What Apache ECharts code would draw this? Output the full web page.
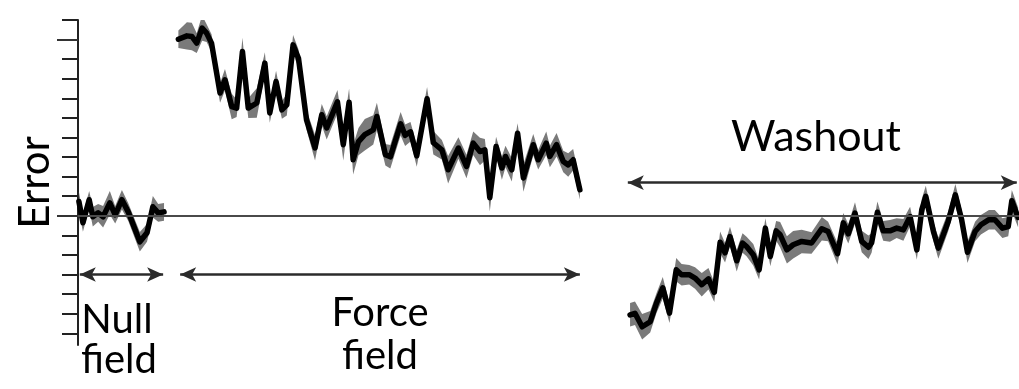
<!DOCTYPE html>
<html>
<head>
<meta charset="utf-8">
<script src="https://cdn.jsdelivr.net/npm/echarts@6/dist/echarts.min.js"></script>
<style>
  html, body { margin: 0; padding: 0; background: #fff; }
  #chart { width: 1019px; height: 389px; }
</style>
</head>
<body>
<div id="chart"></div>
<script>
// Trial positions, mean error and its standard error for each phase
const nullTrials = [0.2, 1.1, 2.5, 3.3, 4.5, 5.6, 7.1, 8.3, 9.8, 11.2, 13.8, 15.4, 16.7, 17.9, 19.2];
const nullMean   = [0.73, -0.36, 0.82, -0.05, 0.15, -0.05, 0.66, 0.05, 0.82, 0.2, -1.33, -0.87, 0.46, 0.15, 0.2];
const nullSem    = [0.5, 0.45, 0.45, 0.5, 0.45, 0.55, 0.6, 0.45, 0.5, 0.45, 0.5, 0.45, 0.55, 0.45, 0.45];

const forceTrials = [22.4, 24.3, 25.4, 26.5, 27.7, 28.7, 29.8, 31.7, 32.8, 34.3, 35.4, 36.7, 38.0, 39.9, 41.7, 42.8,
  44.2, 45.5, 46.6, 48.0, 49.2, 51.0, 52.9, 54.4, 55.5, 57.9, 59.2, 60.5, 61.4, 62.6, 64.0, 65.9,
  66.7, 68.6, 69.7, 72.0, 73.0, 74.2, 75.6, 77.9, 79.3, 81.2, 82.6, 84.9, 86.7, 88.2, 89.7, 90.8,
  91.9, 93.3, 94.6, 95.4, 96.8, 98.1, 99.4, 101.6, 102.7, 104.5, 105.3, 106.8, 108.3, 109.4, 110.5, 112.0];
const forceMean = [9.02, 9.19, 9.16, 8.82, 9.59, 9.33, 8.82, 6.27, 6.95, 5.58, 5.50, 8.39, 5.50, 5.76, 7.80, 5.25,
  6.86, 5.41, 5.67, 8.73, 8.05, 4.90, 3.47, 5.16, 4.49, 5.82, 3.63, 5.80, 2.86, 3.79, 4.14, 4.39,
  5.07, 3.12, 3.01, 4.70, 4.11, 4.29, 3.06, 5.98, 3.73, 3.37, 2.35, 3.46, 2.52, 3.71, 3.28, 3.37,
  0.92, 3.54, 2.44, 3.03, 2.35, 4.22, 1.93, 3.63, 2.86, 3.71, 3.03, 3.63, 2.77, 2.60, 2.86, 1.33];
const forceSem = [0.45, 0.7, 0.7, 0.5, 0.65, 0.45, 0.45, 0.5, 0.55, 0.65, 0.45, 0.7, 0.5, 0.75, 0.55, 0.5,
  0.55, 0.45, 0.55, 0.5, 0.45, 0.5, 0.65, 0.55, 0.6, 0.6, 0.8, 0.7, 0.75, 0.7, 0.8, 0.75,
  0.7, 0.55, 0.6, 0.6, 0.55, 0.5, 0.55, 0.6, 0.6, 0.5, 0.7, 0.55, 0.6, 0.6, 0.7, 0.55,
  0.7, 0.5, 0.6, 0.55, 0.6, 0.5, 0.7, 0.55, 0.5, 0.6, 0.55, 0.6, 0.55, 0.6, 0.55, 0.5];

const washTrials = [123.2, 124.3, 125.9, 127.7, 129.1, 130.5, 132.0, 133.5, 134.7, 136.4, 137.7, 139.2, 140.7, 142.0,
  143.3, 144.4, 145.5, 147.0, 148.3, 149.2, 150.7, 152.0, 153.4, 154.5, 155.8, 156.7, 158.2, 159.6,
  161.5, 163.7, 166.0, 167.4, 169.5, 170.8, 171.9, 173.4, 174.9, 176.4, 177.1, 178.4, 179.7, 181.2,
  182.7, 184.2, 185.7, 187.2, 188.3, 189.2, 190.9, 192.0, 194.2, 195.8, 197.2, 198.5, 200.2, 201.5,
  203.3, 204.6, 206.3, 207.6, 208.4, 209.8];
const washMean = [-5.06, -4.98, -5.67, -5.41, -4.46, -3.68, -4.97, -2.76, -3.01, -3.01, -3.18, -3.52, -3.22, -3.91,
  -1.35, -1.89, -1.06, -2.30, -1.39, -1.57, -1.99, -2.76, -0.63, -2.08, -0.77, -0.97, -1.74, -1.48,
  -1.31, -1.39, -0.66, -0.80, -1.94, -0.36, -0.92, 0.14, -1.31, -1.61, -1.39, 0.18, -0.77, -0.77,
  -0.63, -0.72, -0.04, -1.74, 0.31, 0.99, -0.80, -1.65, -0.29, 1.07, -0.20, -1.86, -0.80, -0.46,
  -0.20, -0.20, -0.63, -0.55, 0.77, -0.08];
const washSem = [0.6, 0.6, 0.65, 0.55, 0.5, 0.55, 0.5, 0.6, 0.55, 0.5, 0.55, 0.6, 0.55, 0.5,
  0.55, 0.5, 0.5, 0.55, 0.5, 0.5, 0.55, 0.5, 0.5, 0.5, 0.5, 0.65, 0.7, 0.7,
  0.6, 0.55, 0.6, 0.5, 0.55, 0.5, 0.5, 0.55, 0.55, 0.6, 0.5, 0.55, 0.5, 0.55,
  0.5, 0.55, 0.5, 0.5, 0.55, 0.55, 0.5, 0.55, 0.5, 0.55, 0.5, 0.55, 0.5, 0.5,
  0.5, 0.5, 0.5, 0.5, 0.55, 0.5];

// Axis ticks and phase spans
const yTicks = [-6, -5, -4, -3, -2, -1, 0, 1, 2, 3, 4, 5, 6, 7, 8, 9, 10];
const yLongTicks = [0, 9];
const nullSpan = [0.4, 19.0];
const forceSpan = [22.8, 112.0];
const washSpan = [122.7, 209.5];
const lowerArrowLevel = -3;
const upperArrowLevel = 1.69;

const BAND = '#7a7a7a';
const INK = '#000';

// Shaded mean ± SEM band drawn as one polygon through the axis scales
function bandSeries(xs, mean, sem) {
  return {
    type: 'custom', silent: true, z: 1, clip: true,
    data: xs.map((x, i) => [x, mean[i] - sem[i], mean[i] + sem[i]]),
    renderItem: function (params, api) {
      if (params.dataIndexInside !== 0) return null;
      const n = params.dataInsideLength;
      const upper = [], lower = [];
      for (let i = 0; i < n; i++) {
        const x = api.value(0, i);
        upper.push(api.coord([x, api.value(2, i)]));
        lower.push(api.coord([x, api.value(1, i)]));
      }
      return {
        type: 'polygon',
        shape: { points: upper.concat(lower.reverse()) },
        style: { fill: BAND }
      };
    }
  };
}

function meanSeries(xs, mean) {
  return {
    type: 'line', silent: true, z: 3, symbol: 'none',
    data: xs.map((x, i) => [x, mean[i]]),
    lineStyle: { color: INK, width: 5.5, join: 'round', cap: 'round' }
  };
}

const arrowStyle = { color: '#2b2b2b', width: 2.5, type: 'solid' };

const series = [
  bandSeries(nullTrials, nullMean, nullSem),
  bandSeries(forceTrials, forceMean, forceSem),
  bandSeries(washTrials, washMean, washSem),
  meanSeries(nullTrials, nullMean),
  meanSeries(forceTrials, forceMean),
  meanSeries(washTrials, washMean),
  {
    type: 'line', data: [], silent: true, z: 2,
    markLine: {
      silent: true, symbol: 'none', label: { show: false },
      lineStyle: { color: '#4a4a4a', width: 2, type: 'solid' },
      data: [{ yAxis: 0 }]
    }
  },
  {
    type: 'line', data: [], silent: true, z: 4,
    markLine: {
      silent: true, symbol: ['arrow', 'arrow'], symbolSize: [11, 16],
      label: { show: false }, lineStyle: arrowStyle,
      data: [
        [{ coord: [nullSpan[0], lowerArrowLevel] }, { coord: [nullSpan[1], lowerArrowLevel] }],
        [{ coord: [forceSpan[0], lowerArrowLevel] }, { coord: [forceSpan[1], lowerArrowLevel] }],
        [{ coord: [washSpan[0], upperArrowLevel] }, { coord: [washSpan[1], upperArrowLevel] }]
      ]
    }
  }
];

const FONT = 'Lato';
const FONT_SIZE = 40;
const label = (txt, x, y, size) => ({
  type: 'text', x: x, y: y, silent: true, z: 10,
  style: { text: txt, font: (size || FONT_SIZE) + 'px ' + FONT, fill: '#000', align: 'center', verticalAlign: 'top' }
});

const chart = echarts.init(document.getElementById('chart'), null, { renderer: 'canvas' });
chart.setOption({
  animation: false,
  backgroundColor: '#fff',
  grid: { left: 78, right: 0, top: 20, bottom: 44, containLabel: false },
  xAxis: { type: 'value', min: 0, max: 210, show: false },
  yAxis: [
    {
      type: 'value', min: -6.6, max: 10,
      name: 'Error', nameLocation: 'middle', nameRotate: 90, nameGap: 22,
      nameTextStyle: { fontFamily: FONT, fontSize: 42, color: '#000' },
      axisLine: { show: true, lineStyle: { color: '#222', width: 2 } },
      axisTick: { show: true, customValues: yTicks, length: 16, lineStyle: { color: '#222', width: 2 } },
      axisLabel: { show: false },
      splitLine: { show: false }
    },
    {
      type: 'value', min: -6.6, max: 10, position: 'left',
      axisLine: { show: false },
      axisTick: { show: true, customValues: yLongTicks, length: 21, lineStyle: { color: '#333', width: 2 } },
      axisLabel: { show: false },
      splitLine: { show: false }
    }
  ],
  series: series,
  graphic: [
    label('Null', 117, 300),
    label('field', 119, 340),
    label('Force', 380, 293),
    label('field', 380, 336),
    label('Washout', 816, 116, 43)
  ]
});
</script>
</body>
</html>
